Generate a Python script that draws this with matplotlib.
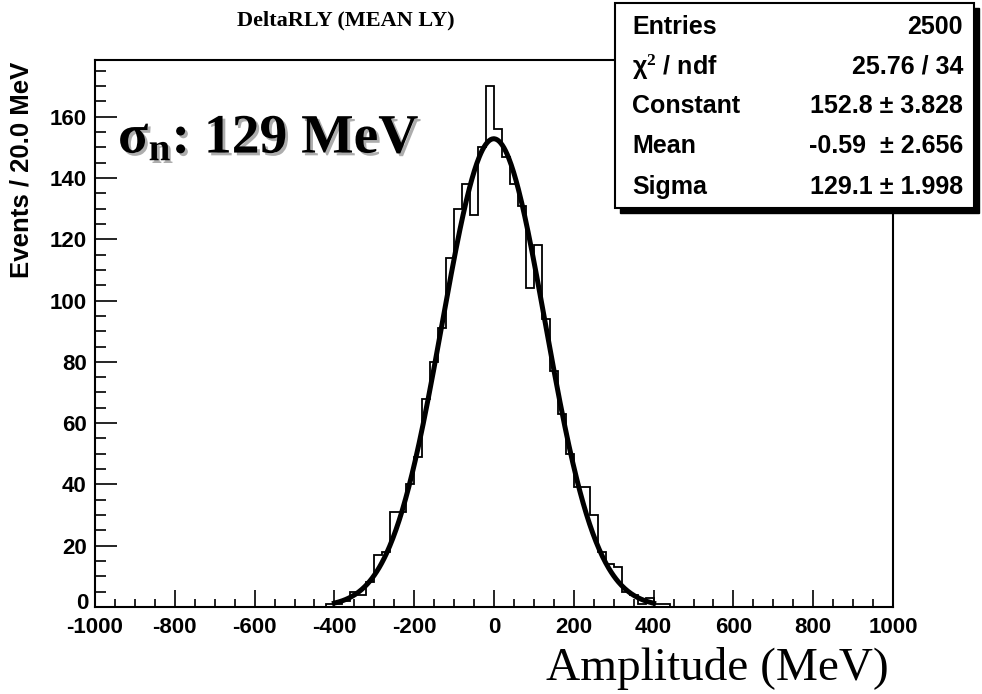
import numpy as np
import matplotlib.pyplot as plt
from matplotlib.ticker import MultipleLocator, FuncFormatter
import matplotlib.patheffects as pe
from matplotlib.patches import Rectangle

# histogram: 20 MeV bins, counts for the non-empty range starting at -420 MeV
bin_width = 20
first_edge = -420
counts = [1, 1, 2, 5, 4, 8, 17, 18, 31, 31, 40, 49, 68, 80, 91, 114, 130, 138,
          128, 150, 170, 156, 147, 138, 131, 104, 118, 94, 77, 63, 50, 39, 39,
          30, 18, 14, 13, 5, 4, 1, 3, 1, 1]

# gaussian fit parameters shown in the stats box
fit_constant = 152.8
fit_mean = -0.59
fit_sigma = 129.1
fit_range = (-400, 400)

stat_labels = ["Entries", "χ$^{2}$ / ndf", "Constant", "Mean", "Sigma"]
stat_values = ["2500", "25.76 / 34", "152.8 ± 3.828", "-0.59  ± 2.656",
               "129.1 ± 1.998"]

plt.rcParams.update({
    "font.family": "Liberation Sans",
    "font.weight": "bold",
    "axes.unicode_minus": False,
    "mathtext.fontset": "custom",
    "mathtext.rm": "Liberation Serif:bold",
    "mathtext.it": "Liberation Serif:bold",
    "mathtext.bf": "Liberation Serif:bold",
})

fig = plt.figure(figsize=(9.82, 6.94), dpi=100)
ax = fig.add_axes([95 / 982, 87 / 694, (893 - 95) / 982, (607 - 60) / 694])

edges = first_edge + bin_width * np.arange(len(counts) + 1)
ax.stairs(counts, edges, color="black", linewidth=1.3, baseline=0, zorder=2)

xf = np.linspace(fit_range[0], fit_range[1], 400)
yf = fit_constant * np.exp(-0.5 * ((xf - fit_mean) / fit_sigma) ** 2)
ax.plot(xf, yf, color="black", linewidth=3.6, zorder=3)

ax.set_xlim(-1000, 1000)
ax.set_ylim(0, 178.5)
ax.xaxis.set_major_locator(MultipleLocator(200))
ax.xaxis.set_minor_locator(MultipleLocator(50))
ax.yaxis.set_major_locator(MultipleLocator(20))
ax.yaxis.set_minor_locator(MultipleLocator(5))
# the "0" y label is placed by hand a touch higher, like ROOT does
ax.yaxis.set_major_formatter(FuncFormatter(lambda v, p: "" if v == 0 else f"{v:.0f}"))
ax.tick_params(axis="x", which="major", direction="in", length=12, width=1.2,
               labelsize=16, pad=7)
ax.tick_params(axis="x", which="minor", direction="in", length=6, width=1.2)
ax.tick_params(axis="y", which="major", direction="in", length=16, width=1.2,
               labelsize=16, pad=6)
ax.tick_params(axis="y", which="minor", direction="in", length=8, width=1.2)
for lab in ax.get_xticklabels() + ax.get_yticklabels():
    lab.set_fontweight("bold")
for sp in ax.spines.values():
    sp.set_linewidth(1.5)

ax.annotate("0", xy=(0, 0), xycoords=("axes fraction", "data"), xytext=(-4.5, 2.5),
            textcoords="offset points", ha="right", va="center", fontsize=16,
            fontweight="bold")

fig.text(22 / 982, 1 - 62 / 694, "Events / 20.0 MeV", fontsize=18.5,
         fontweight="bold", rotation=90, ha="center", va="top")

fig.text(346 / 982, 1 - 20 / 694, "DeltaRLY (MEAN LY)", family="Liberation Serif",
         fontweight="bold", fontsize=16, ha="center", va="center")

sig = fig.text(118 / 982, 1 - 153 / 694, "σ$_{\\mathrm{n}}$: 129 MeV",
               family="Liberation Serif", fontweight="bold", fontsize=40,
               ha="left", va="baseline", zorder=5)
sig.set_path_effects([pe.withSimplePatchShadow(offset=(2, -2), shadow_rgbFace="0.6",
                                               alpha=0.8)])

fig.text(0.905, 1 - 668 / 694, "Amplitude (MeV)", family="Liberation Serif",
         fontweight="normal", fontsize=34, ha="right", va="center")

# stats box with shadow
bx0, bx1 = 615 / 982, 974 / 982
by0, by1 = 1 - 208 / 694, 1 - 3 / 694
fig.patches.append(Rectangle((bx0 + 5 / 982, by0 - 5 / 694), bx1 - bx0, by1 - by0,
                             transform=fig.transFigure, facecolor="black",
                             edgecolor="black", zorder=6))
fig.patches.append(Rectangle((bx0, by0), bx1 - bx0, by1 - by0,
                             transform=fig.transFigure, facecolor="white",
                             edgecolor="black", linewidth=1.5, zorder=7))
row_y = [27, 67, 106, 146, 187]
for lab, val, ry in zip(stat_labels, stat_values, row_y):
    fig.text(632 / 982, 1 - ry / 694, lab, fontsize=18, fontweight="bold",
             ha="left", va="center", zorder=8)
    fig.text(963 / 982, 1 - ry / 694, val, fontsize=18, fontweight="bold",
             ha="right", va="center", zorder=8)

fig.savefig("out.png", dpi=100)
